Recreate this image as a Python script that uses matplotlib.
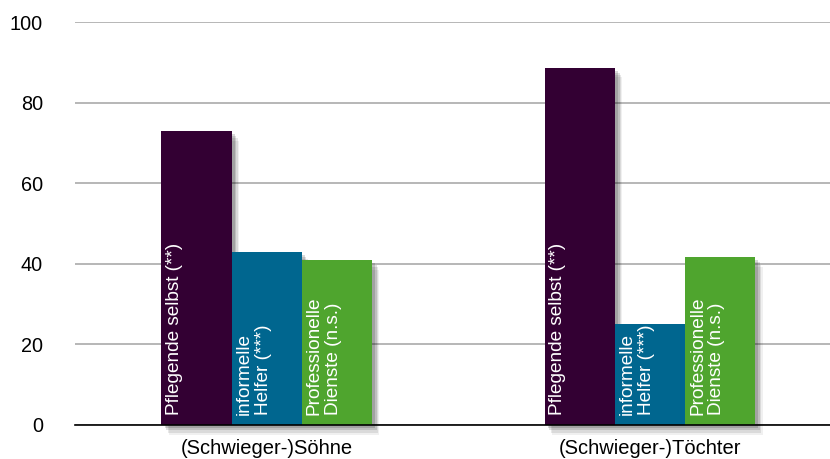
import numpy as np
import matplotlib.pyplot as plt

plt.rcParams['font.family'] = ['Liberation Sans', 'DejaVu Sans']

groups = ['(Schwieger-)Söhne', '(Schwieger-)Töchter']
series = ['Pflegende selbst (**)', 'informelle\nHelfer (***)', 'Professionelle\nDienste (n.s.)']
values = [
    [73, 88.7],   # Pflegende selbst
    [43, 25],     # informelle Helfer
    [41, 41.7],   # Professionelle Dienste
]
colors = ['#330033', '#00668f', '#4fa52e']
yticks = [0, 20, 40, 60, 80, 100]

fig = plt.figure(figsize=(8.3, 4.59), dpi=100)
ax = fig.add_axes([75/830, 34/459, 755/830, 403/459])

x = np.arange(len(groups))
w = 0.183

for i, (vals, col, lab) in enumerate(zip(values, colors, series)):
    pos = x + (i - 1) * w
    # soft drop shadow
    for k, a in zip([1.3, 1.0, 0.7, 0.4], [0.06, 0.09, 0.12, 0.15]):
        ax.bar(pos + 0.012 * k + 0.004, np.array(vals), width=w, bottom=-1.9 * k,
               color='black', alpha=a, linewidth=0, zorder=1, clip_on=False)
    ax.bar(pos, vals, width=w, color=col, linewidth=0, zorder=3)
    for p in pos:
        ax.annotate(lab, xy=(p - w / 2, 0), xytext=(3, 7), textcoords='offset points',
                    rotation=90, ha='left', va='bottom', color='white', fontsize=13.7,
                    multialignment='left', linespacing=1.15, zorder=4)

ax.set_xlim(-0.5, 1.47)
ax.set_ylim(0, 100)
ax.set_yticks(yticks)
ax.yaxis.grid(True, color='#aaaaaa', linewidth=1.2, zorder=0)
ax.set_axisbelow(True)
ax.set_xticks(x)
ax.set_xticklabels(groups, fontsize=14.5)
ax.tick_params(axis='both', length=0)
ax.tick_params(axis='y', pad=23, labelsize=14.3)
ax.tick_params(axis='x', pad=10)
for s in ['top', 'right', 'left']:
    ax.spines[s].set_visible(False)
ax.spines['bottom'].set_color('black')
ax.spines['bottom'].set_linewidth(1.2)
ax.spines['bottom'].set_zorder(5)

fig.savefig('out.png', dpi=100)
